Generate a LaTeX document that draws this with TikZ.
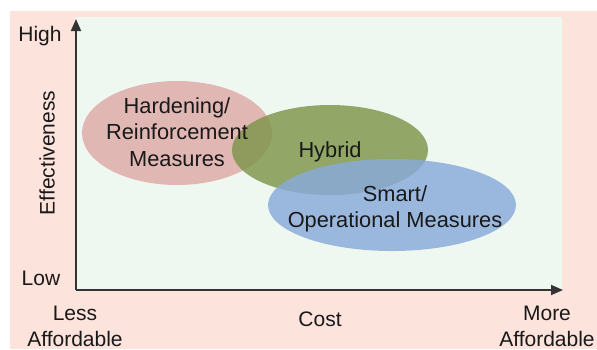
\documentclass[tikz,border=0pt]{standalone}
\usepackage{fontspec}
\setmainfont{Liberation Sans}
\usetikzlibrary{arrows.meta}
\definecolor{bgpink}{HTML}{FCE3DB}
\definecolor{plotbg}{HTML}{EEF8F1}
\definecolor{redell}{HTML}{DFA9A7}
\definecolor{greenell}{HTML}{7E954A}
\definecolor{blueell}{HTML}{88AADB}
\definecolor{axisc}{HTML}{333333}
\begin{document}
\begin{tikzpicture}[x=1pt,y=-1pt,
  lbl/.style={font=\fontsize{21}{26}\selectfont, text=black!90, align=center, inner sep=0pt},
  inlbl/.style={lbl, font=\fontsize{21.8}{26.5}\selectfont},
  axis/.style={draw=axisc, line width=1.8pt, -{Triangle[length=12pt,width=10pt]}},
  ell/.style={opacity=0.82}]
\useasboundingbox (0,0) rectangle (597,349);
\fill[white] (0,0) rectangle (597,349);
\fill[bgpink] (10,11) rectangle (597,349);
\fill[plotbg] (75,17) rectangle (562,290);
% ellipses
\fill[redell,ell] (177,133) ellipse [x radius=95, y radius=52];
\fill[greenell,ell] (330,150) ellipse [x radius=98, y radius=45];
\fill[blueell,ell] (392,205) ellipse [x radius=124, y radius=46];
% axes
\coordinate (origin) at (76,290);
\coordinate (ytop) at (76,19);
\coordinate (xend) at (563,290);
\draw[axis] (origin) -- (ytop);
\draw[axis] (origin) -- (xend);
% labels
\node[inlbl] (hard) at (177,132) {Hardening/\\Reinforcement\\Measures};
\node[inlbl] (hyb) at (330,152) {Hybrid};
\node[inlbl] (smart) at (395,209) {Smart/\\Operational Measures};
\node[lbl] (high) at (40,36) {High};
\node[lbl] (low) at (41,278) {Low};
\node[lbl, rotate=90] (eff) at (47,153) {Effectiveness};
\node[lbl] (cost) at (320,319) {Cost};
\node[lbl] (less) at (75,326) {Less\\Affordable};
\node[lbl] (more) at (547,326) {More\\Affordable};
\end{tikzpicture}
\end{document}
